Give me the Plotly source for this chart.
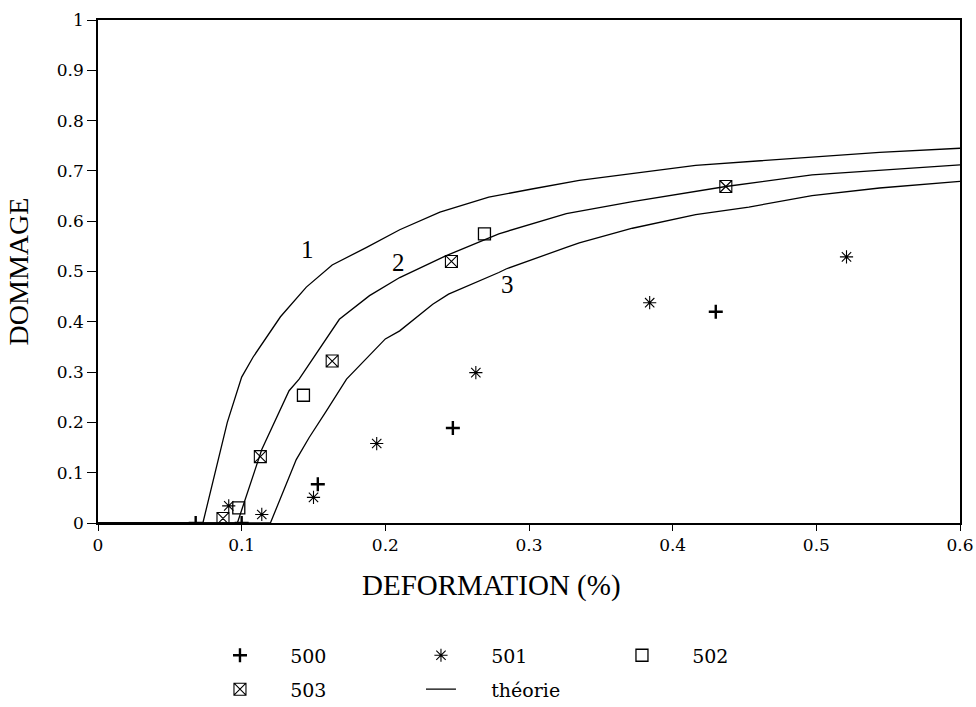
import plotly.graph_objects as go

# ---- data ----
s500_x = [0.068, 0.100, 0.153, 0.247, 0.430]
s500_y = [0.000, 0.000, 0.077, 0.189, 0.420]

s501_x = [0.091, 0.114, 0.150, 0.194, 0.263, 0.384, 0.521]
s501_y = [0.034, 0.017, 0.051, 0.158, 0.299, 0.438, 0.529]

s502_x = [0.098, 0.143, 0.269]
s502_y = [0.030, 0.254, 0.575]

s503_x = [0.087, 0.113, 0.163, 0.246, 0.437]
s503_y = [0.009, 0.132, 0.322, 0.520, 0.669]

c1_x = [0.0, 0.073, 0.090, 0.100, 0.108, 0.127, 0.145, 0.163, 0.187, 0.210, 0.238,
        0.272, 0.302, 0.335, 0.416, 0.497, 0.544, 0.600]
c1_y = [0.0, 0.0, 0.200, 0.290, 0.330, 0.410, 0.469, 0.513, 0.548, 0.583, 0.618,
        0.648, 0.664, 0.681, 0.711, 0.728, 0.737, 0.745]

c2_x = [0.0, 0.097, 0.114, 0.133, 0.140, 0.168, 0.189, 0.210, 0.242, 0.279, 0.326,
        0.372, 0.437, 0.497, 0.600]
c2_y = [0.0, 0.0, 0.146, 0.263, 0.286, 0.405, 0.452, 0.488, 0.531, 0.575, 0.615,
        0.639, 0.669, 0.692, 0.712]

c3_x = [0.0, 0.120, 0.138, 0.147, 0.159, 0.173, 0.200, 0.210, 0.233, 0.244, 0.279,
        0.284, 0.326, 0.335, 0.372, 0.416, 0.453, 0.497, 0.544, 0.600]
c3_y = [0.0, 0.0, 0.126, 0.170, 0.223, 0.286, 0.366, 0.382, 0.435, 0.455, 0.498,
        0.505, 0.548, 0.557, 0.586, 0.613, 0.628, 0.651, 0.666, 0.679]

curve_labels = ["1", "2", "3"]
label_x = [0.1455, 0.2095, 0.285]
label_y = [0.543, 0.518, 0.475]

x_ticks = [0, 0.1, 0.2, 0.3, 0.4, 0.5, 0.6]
y_ticks = [0, 0.1, 0.2, 0.3, 0.4, 0.5, 0.6, 0.7, 0.8, 0.9, 1]

x_title = "DEFORMATION (%)"
y_title = "DOMMAGE"

NB = "\u00a0"
PAD = NB * 5
fig = go.Figure()

line_style = dict(color="black", width=1.3)
fig.add_trace(go.Scatter(x=s500_x, y=s500_y, mode="markers", name=PAD + "500", legend="legend",
                         marker=dict(symbol="cross-thin", size=10, color="black",
                                     line=dict(color="black", width=2.4))))
fig.add_trace(go.Scatter(x=s501_x, y=s501_y, mode="markers", name=PAD + "501", legend="legend",
                         marker=dict(symbol="asterisk-open", size=11, color="black",
                                     line=dict(color="black", width=1.1))))
fig.add_trace(go.Scatter(x=s502_x, y=s502_y, mode="markers", name=PAD + "502", legend="legend",
                         marker=dict(symbol="square-open", size=12, color="black",
                                     line=dict(color="black", width=1.3))))
fig.add_trace(go.Scatter(x=s503_x, y=s503_y, mode="markers", name=PAD + "503", legend="legend2",
                         marker=dict(symbol="square-x-open", size=12, color="black",
                                     line=dict(color="black", width=1.1))))
fig.add_trace(go.Scatter(x=c1_x, y=c1_y, mode="lines", name=NB * 5 + "théorie", legend="legend2",
                         line=line_style, showlegend=True))
fig.add_trace(go.Scatter(x=c2_x, y=c2_y, mode="lines", line=line_style, showlegend=False))
fig.add_trace(go.Scatter(x=c3_x, y=c3_y, mode="lines", line=line_style, showlegend=False))

for t, lx, ly in zip(curve_labels, label_x, label_y):
    fig.add_annotation(x=lx, y=ly, text=t, showarrow=False,
                       font=dict(family="Liberation Serif", size=25, color="black"))

# x-axis title, slightly left of centre as in the reference
fig.add_annotation(x=0.456, y=-0.124, xref="paper", yref="paper", text=x_title,
                   showarrow=False, xanchor="center", yanchor="middle",
                   font=dict(family="Liberation Serif", size=29, color="black"))

axis_common = dict(showgrid=False, zeroline=False, showline=True, linecolor="black",
                   linewidth=1.6, mirror=True, ticks="outside", tickcolor="black",
                   tickwidth=1.2, tickfont=dict(family="DejaVu Serif", size=17, color="black"))

fig.update_xaxes(range=[0, 0.6], tickvals=x_ticks, ticklen=6,
                 automargin=False, **axis_common)
fig.update_yaxes(range=[0, 1], tickvals=y_ticks, ticklen=9,
                 title=dict(text=y_title, standoff=20,
                            font=dict(family="Liberation Serif", size=28, color="black")),
                 automargin=False, **axis_common)

leg_common = dict(orientation="h", xanchor="left", yanchor="top",
                  entrywidth=156, entrywidthmode="pixels", itemwidth=30,
                  font=dict(family="DejaVu Serif", size=19, color="black"),
                  bgcolor="rgba(0,0,0,0)", borderwidth=0)

fig.update_layout(
    width=976, height=707,
    margin=dict(l=98, r=16, t=20, b=183.5, autoexpand=False),
    paper_bgcolor="white", plot_bgcolor="white",
    showlegend=True,
    legend=dict(x=0.1415, y=-0.2254, **leg_common),
    legend2=dict(x=0.1415, y=-0.2929, **leg_common),
)

fig.write_html("out.html",
               config={"displayModeBar": False},
               post_script="document.body.style.margin='0px';"
                           "document.documentElement.style.overflow='hidden';")
